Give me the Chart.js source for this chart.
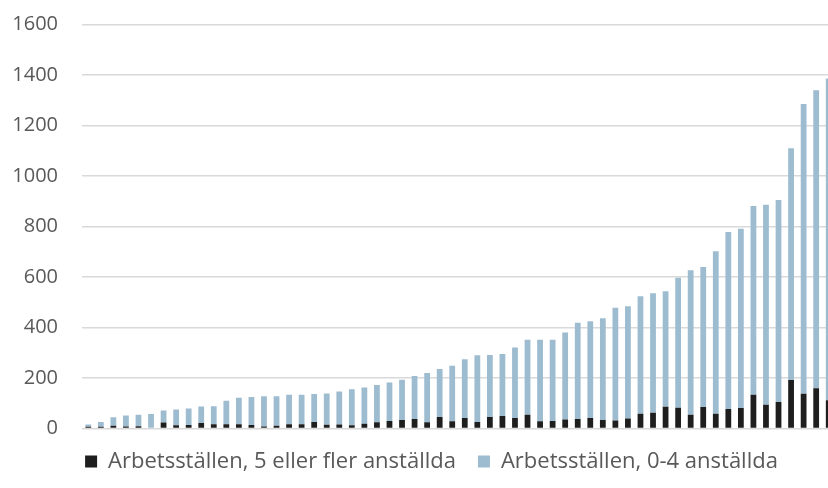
<!DOCTYPE html>
<html lang="sv">
  <head>
    <meta charset="UTF-8" />
    <title>Arbetsställen</title>
    <script src="https://cdn.jsdelivr.net/npm/chart.js@4.4.1/dist/chart.umd.min.js"></script>
    <style>
      html, body { margin: 0; padding: 0; background: #fff; overflow: hidden; }
      #wrap { width: 862px; height: 488px; }
    </style>
  </head>
  <body>
    <div id="wrap">
      <canvas id="myChart" width="862" height="488"></canvas>
    </div>

    <script>
      // 60 områden, sorterade efter totalt antal arbetsställen (inga etiketter visas)
      const categories = [
        "1","2","3","4","5","6","7","8","9","10",
        "11","12","13","14","15","16","17","18","19","20",
        "21","22","23","24","25","26","27","28","29","30",
        "31","32","33","34","35","36","37","38","39","40",
        "41","42","43","44","45","46","47","48","49","50",
        "51","52","53","54","55","56","57","58","59","60"
      ];

      // Arbetsställen, 5 eller fler anställda (svart)
      const fivePlus = [
        7, 7, 11, 8, 9, 3, 24, 13, 14, 22,
        17, 17, 17, 14, 8, 11, 17, 17, 26, 15,
        16, 13, 19, 25, 30, 34, 38, 25, 46, 29,
        42, 26, 46, 50, 42, 54, 29, 30, 36, 38,
        42, 34, 32, 40, 58, 62, 86, 82, 54, 85,
        58, 77, 81, 134, 94, 105, 192, 138, 159, 112
      ];

      // Arbetsställen, 0-4 anställda (blå)
      const zeroToFour = [
        9, 19, 34, 43, 45, 54, 47, 62, 65, 65,
        71, 93, 105, 111, 120, 117, 117, 117, 111, 124,
        131, 142, 143, 147, 152, 159, 170, 195, 190, 220,
        232, 264, 245, 245, 279, 297, 322, 321, 344, 381,
        383, 403, 446, 444, 466, 474, 458, 515, 573, 555,
        644, 701, 710, 747, 792, 800, 918, 1147, 1181, 1274
      ];

      const yTicks = [0, 200, 400, 600, 800, 1000, 1200, 1400, 1600];

      Chart.defaults.font.family = "'Open Sans', sans-serif";

      // flytta legenden lite åt höger (diagrammet är beskuret till höger)
      const legendShift = {
        id: "legendShift",
        afterLayout: function (chart) {
          chart.legend.left += 14;
          chart.legend.right += 14;
        }
      };

      var ctx = document.getElementById("myChart").getContext("2d");
      var chart = new Chart(ctx, {
        type: "bar",
        data: {
          labels: categories,
          datasets: [
            {
              label: "Arbetsställen, 5 eller fler anställda",
              data: fivePlus,
              backgroundColor: "#1e1e1e",
              barPercentage: 0.46,
              categoryPercentage: 1
            },
            {
              label: "Arbetsställen, 0-4 anställda",
              data: zeroToFour,
              backgroundColor: "#9dbcd0",
              barPercentage: 0.46,
              categoryPercentage: 1
            }
          ]
        },
        options: {
          responsive: false,
          animation: false,
          layout: {
            padding: { left: 0, right: 27, top: 24.5, bottom: 5.5 }
          },
          plugins: {
            tooltip: { enabled: false },
            legend: {
              position: "bottom",
              labels: {
                color: "#595959",
                font: { size: 22 },
                boxWidth: 12,
                boxHeight: 12,
                padding: 22
              }
            }
          },
          scales: {
            x: {
              display: false,
              stacked: true
            },
            y: {
              stacked: true,
              min: 0,
              max: 1600,
              afterBuildTicks: function (axis) {
                axis.ticks = yTicks.map(function (v) { return { value: v }; });
              },
              afterFit: function (axis) {
                axis.width = 82;
              },
              grid: {
                color: "#d9d9d9",
                lineWidth: 1.5,
                drawTicks: true,
                tickLength: 24,
                tickColor: "rgba(0,0,0,0)"
              },
              border: { display: false },
              ticks: {
                color: "#595959",
                font: { size: 20 },
                padding: 0,
                callback: function (v) { return String(v); }
              }
            }
          }
        },
        plugins: [legendShift]
      });
    </script>
  </body>
</html>
